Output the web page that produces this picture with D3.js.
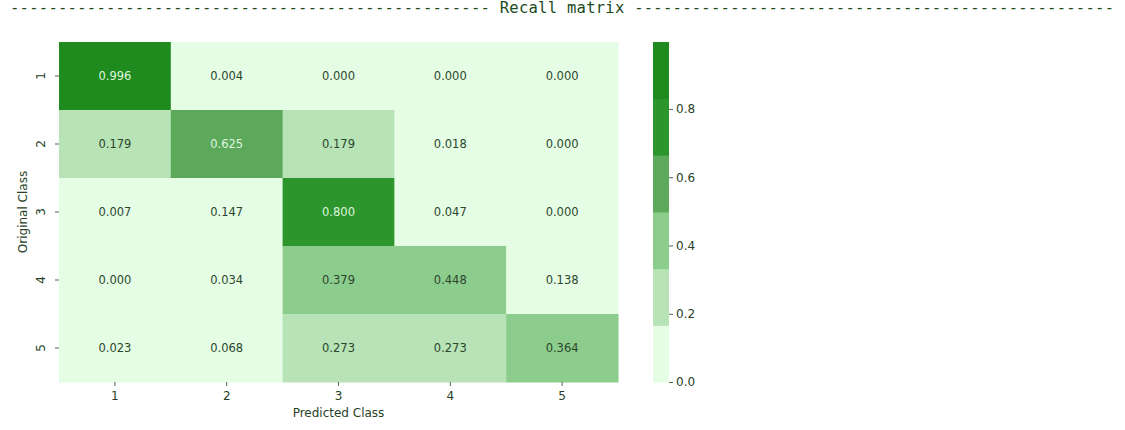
<!DOCTYPE html>
<html>
<head>
<meta charset="utf-8">
<script src="https://cdn.jsdelivr.net/npm/d3@7"></script>
<style>
  html, body { margin: 0; padding: 0; background: #ffffff; }
  svg { display: block; }
</style>
</head>
<body>
<svg id="chart" width="1125" height="430"></svg>
<script>
// ---- data ----
const titleText = "Recall matrix";
const predictedClasses = ["1", "2", "3", "4", "5"];
const originalClasses = ["1", "2", "3", "4", "5"];
const row1 = [0.996, 0.004, 0.000, 0.000, 0.000];
const row2 = [0.179, 0.625, 0.179, 0.018, 0.000];
const row3 = [0.007, 0.147, 0.800, 0.047, 0.000];
const row4 = [0.000, 0.034, 0.379, 0.448, 0.138];
const row5 = [0.023, 0.068, 0.273, 0.273, 0.364];
const matrixRows = [row1, row2, row3, row4, row5];
const colorbarTicks = [0.0, 0.2, 0.4, 0.6, 0.8];
const palette = ["#e5fde5", "#b7e3b7", "#8ccc8c", "#5ca95c", "#2c962c", "#1f8b1f"];

// ---- layout ----
const svg = d3.select("#chart");
const textColor = "#263f26";
const hm = { x0: 59, x1: 618, y0: 42, y1: 382 };
const cb = { x0: 653, x1: 669 };

const vmax = d3.max(matrixRows.flat());
const color = d3.scaleQuantize().domain([0, vmax]).range(palette);

// ---- title line ----
const dashes = "-".repeat(50);
svg.append("text")
  .attr("x", 10).attr("y", 13)
  .attr("textLength", 1104)
  .attr("lengthAdjust", "spacing")
  .style("font-family", "'DejaVu Sans Mono', monospace")
  .style("font-size", "15.5px")
  .style("white-space", "pre")
  .attr("fill", "#1e4a1e")
  .text(dashes + " " + titleText + " " + dashes);

// ---- scales ----
const x = d3.scaleBand().domain(predictedClasses).range([hm.x0, hm.x1]).padding(0);
const y = d3.scaleBand().domain(originalClasses).range([hm.y0, hm.y1]).padding(0);

const cells = [];
matrixRows.forEach((row, i) => row.forEach((v, j) => cells.push({ r: originalClasses[i], c: predictedClasses[j], v })));

const g = svg.append("g");
g.selectAll("rect.cell").data(cells).enter().append("rect")
  .attr("class", "cell")
  .attr("x", d => x(d.c)).attr("y", d => y(d.r))
  .attr("width", x.bandwidth() + 0.5).attr("height", y.bandwidth() + 0.5)
  .attr("fill", d => color(d.v));

function lum(hex) {
  const c = d3.rgb(hex);
  const f = u => { u /= 255; return u <= 0.03928 ? u / 12.92 : Math.pow((u + 0.055) / 1.055, 2.4); };
  return 0.2126 * f(c.r) + 0.7152 * f(c.g) + 0.0722 * f(c.b);
}

g.selectAll("text.ann").data(cells).enter().append("text")
  .attr("class", "ann")
  .attr("x", d => x(d.c) + x.bandwidth() / 2)
  .attr("y", d => y(d.r) + y.bandwidth() / 2)
  .attr("dy", "0.35em")
  .attr("text-anchor", "middle")
  .style("font-family", "'DejaVu Sans', sans-serif")
  .style("font-size", "11.5px")
  .attr("fill", d => lum(color(d.v)) > 0.408 ? "#2c472c" : "#dff5df")
  .text(d => d.v.toFixed(3));

// ---- axes ----
const axisStyle = sel => {
  sel.select(".domain").remove();
  sel.selectAll(".tick line").attr("stroke", textColor).attr("stroke-width", 0.8);
  sel.selectAll(".tick text").attr("fill", textColor)
    .style("font-family", "'DejaVu Sans', sans-serif").style("font-size", "12px");
};

const xAxis = svg.append("g").attr("transform", `translate(0,${hm.y1})`)
  .call(d3.axisBottom(x).tickSize(4).tickPadding(5));
axisStyle(xAxis);

const yAxis = svg.append("g").attr("transform", `translate(${hm.x0},0)`)
  .call(d3.axisLeft(y).tickSize(4).tickPadding(4));
axisStyle(yAxis);
yAxis.selectAll(".tick text")
  .attr("transform", "rotate(-90)")
  .attr("x", 0).attr("y", -14)
  .attr("dy", "0")
  .attr("text-anchor", "middle");

svg.append("text")
  .attr("x", (hm.x0 + hm.x1) / 2).attr("y", 417)
  .attr("text-anchor", "middle")
  .style("font-family", "'DejaVu Sans', sans-serif").style("font-size", "12px")
  .attr("fill", textColor)
  .text("Predicted Class");

svg.append("text")
  .attr("transform", `translate(27,${(hm.y0 + hm.y1) / 2}) rotate(-90)`)
  .attr("text-anchor", "middle")
  .style("font-family", "'DejaVu Sans', sans-serif").style("font-size", "12px")
  .attr("fill", textColor)
  .text("Original Class");

// ---- colorbar ----
const cy = d3.scaleLinear().domain([0, vmax]).range([hm.y1, hm.y0]);
const bins = palette.map((p, i) => color.invertExtent(p));
svg.append("g").selectAll("rect").data(bins).enter().append("rect")
  .attr("x", cb.x0).attr("width", cb.x1 - cb.x0)
  .attr("y", d => cy(d[1]))
  .attr("height", d => cy(d[0]) - cy(d[1]) + 0.5)
  .attr("fill", d => color((d[0] + d[1]) / 2));

const cAxis = svg.append("g").attr("transform", `translate(${cb.x1},0)`)
  .call(d3.axisRight(cy).tickValues(colorbarTicks).tickFormat(d3.format(".1f")).tickSize(4).tickPadding(3));
axisStyle(cAxis);
</script>
</body>
</html>
